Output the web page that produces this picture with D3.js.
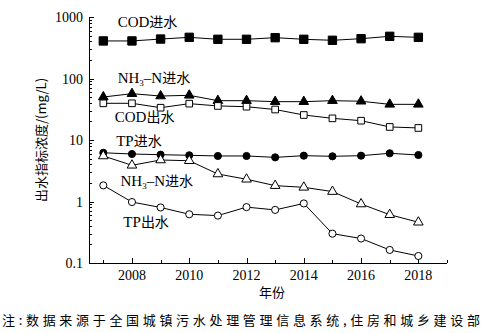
<!DOCTYPE html>
<html><head><meta charset="utf-8">
<script src="https://cdn.jsdelivr.net/npm/d3@7/dist/d3.min.js"></script>
<style>body{margin:0;background:#fff}svg{display:block}</style>
</head><body>
<script>
const years = [2007,2008,2009,2010,2011,2012,2013,2014,2015,2016,2017,2018];
const codIn  = [408,408,438,467,434,434,461,434,418,444,485,467];
const nhIn   = [50,56.6,51.9,53.3,43.6,43.6,42,42,43.6,42.7,38,38];
const codOut = [39.5,39.5,33.5,39,35.8,34.8,31.3,25.5,22.5,20.6,16.3,15.7];
const tpIn   = [6.2,5.92,5.77,5.64,5.5,5.5,5.22,5.56,5.43,5.56,6.08,5.7];
const nhOut  = [5.5,3.88,4.73,4.6,2.8,2.3,1.81,1.7,1.45,0.91,0.61,0.46];
const tpOut  = [1.83,0.98,0.8,0.62,0.59,0.81,0.73,0.93,0.3,0.25,0.163,0.13];
const yTicks = [0.1,1,10,100,1000];
const yTickLabels = ["0.1","1","10","100","1000"];
const xTicks = [2008,2010,2012,2014,2016,2018];
const seriesLabels = [
  {t:"COD进水", x:2007.5, y:700},
  {t:"NH|3|–N进水", x:2007.5, y:83},
  {t:"COD出水", x:2007.4, y:19.7},
  {t:"TP进水", x:2007.45, y:8},
  {t:"NH|3|–N进水", x:2007.6, y:1.82},
  {t:"TP出水", x:2007.7, y:0.39}
];
const yTitle = "出水指标浓度/(mg/L)";
const xTitle = "年份";
const note = "注:数据来源于全国城镇污水处理管理信息系统,住房和城乡建设部";

const W=484,H=333;
const svg=d3.select("body").append("svg").attr("width",W).attr("height",H);
const x=d3.scaleLinear().domain([2006.5,2019]).range([89,447]);
const y=d3.scaleLog().domain([0.1,1000]).range([263,17]);
const serif="'Liberation Serif','Times New Roman',serif";
const cjk="'Noto Sans CJK SC',sans-serif";

svg.append("line").attr("x1",89.5).attr("x2",89.5).attr("y1",y(1000)).attr("y2",y(0.1)).attr("stroke","#000");
svg.append("line").attr("x1",89).attr("x2",447).attr("y1",Math.round(y(0.1))+0.5).attr("y2",Math.round(y(0.1))+0.5).attr("stroke","#000");
const g=svg.append("g");
for(let e=-1;e<3;e++){
  for(let m=1;m<10;m++){
    const v=m*Math.pow(10,e);
    const yy=Math.round(y(v))+0.5;
    g.append("line").attr("x1",89).attr("x2",89+(m===1?5:3)).attr("y1",yy).attr("y2",yy).attr("stroke","#000");
  }
}
g.append("line").attr("x1",89).attr("x2",94).attr("y1",Math.round(y(1000))+0.5).attr("y2",Math.round(y(1000))+0.5).attr("stroke","#000");
yTicks.forEach((v,i)=>{
  svg.append("text").attr("x",83).attr("y",y(v)+5).attr("text-anchor","end")
    .attr("font-family",serif).attr("font-size",14).text(yTickLabels[i]);
});
for(let yr=2007;yr<=2019;yr++){
  const xx=Math.round(x(yr))+0.5;
  g.append("line").attr("x1",xx).attr("x2",xx).attr("y1",y(0.1)).attr("y2",y(0.1)-(yr%2===0?5:3)).attr("stroke","#000");
}
xTicks.forEach(v=>{
  svg.append("text").attr("x",x(v)).attr("y",280).attr("text-anchor","middle")
    .attr("font-family",serif).attr("font-size",14).text(v);
});
svg.append("text").attr("x",272).attr("y",297).attr("text-anchor","middle")
  .attr("font-family",cjk).attr("font-size",13).text(xTitle);
svg.append("text").attr("transform","translate(46,140) rotate(-90)").attr("text-anchor","middle")
  .attr("font-family",cjk).attr("font-size",13).text(yTitle);
svg.append("text").attr("x",2).attr("y",325).attr("textLength",478).attr("lengthAdjust","spacing")
  .attr("font-family",cjk).attr("font-size",13).text(note);

const line=d3.line().x((d,i)=>x(years[i])).y(d=>y(d));
const series=[
  {d:codIn, m:"square", fill:"#000"},
  {d:nhIn, m:"triangle", fill:"#000"},
  {d:codOut, m:"square", fill:"#fff"},
  {d:tpIn, m:"circle", fill:"#000"},
  {d:nhOut, m:"triangle", fill:"#fff"},
  {d:tpOut, m:"circle", fill:"#fff"}
];
series.forEach(s=>{
  svg.append("path").attr("d",line(s.d)).attr("fill","none").attr("stroke","#000").attr("stroke-width",1);
});
series.forEach(s=>{
  const filled=s.fill==="#000";
  const sym=d3.symbol().type(s.m==="square"?d3.symbolSquare:s.m==="triangle"?d3.symbolTriangle:d3.symbolCircle)
    .size(s.m==="square"?(filled?70:44):s.m==="triangle"?40:40);
  svg.selectAll(null).data(s.d).enter().append("path")
    .attr("d",sym).attr("transform",(d,i)=>`translate(${x(years[i])},${y(d)})`)
    .attr("fill",s.fill).attr("stroke","#000").attr("stroke-width",1);
});
seriesLabels.forEach(l=>{
  const t=svg.append("text").attr("x",x(l.x)).attr("y",y(l.y)).attr("font-size",15).attr("font-family",serif);
  const parts=l.t.split("|");
  if(parts.length===1){
    const m=parts[0].match(/^([A-Z]+)(.*)$/);
    t.append("tspan").text(m[1]);
    t.append("tspan").attr("font-family",cjk).attr("font-size",14).text(m[2]);
  } else {
    t.append("tspan").text(parts[0]);
    t.append("tspan").attr("font-size",9).attr("dy",3).text(parts[1]);
    const m=parts[2].match(/^(–N)(.*)$/);
    t.append("tspan").attr("dy",-3).text(m[1]);
    t.append("tspan").attr("font-family",cjk).attr("font-size",14).text(m[2]);
  }
});
</script>
</body></html>
